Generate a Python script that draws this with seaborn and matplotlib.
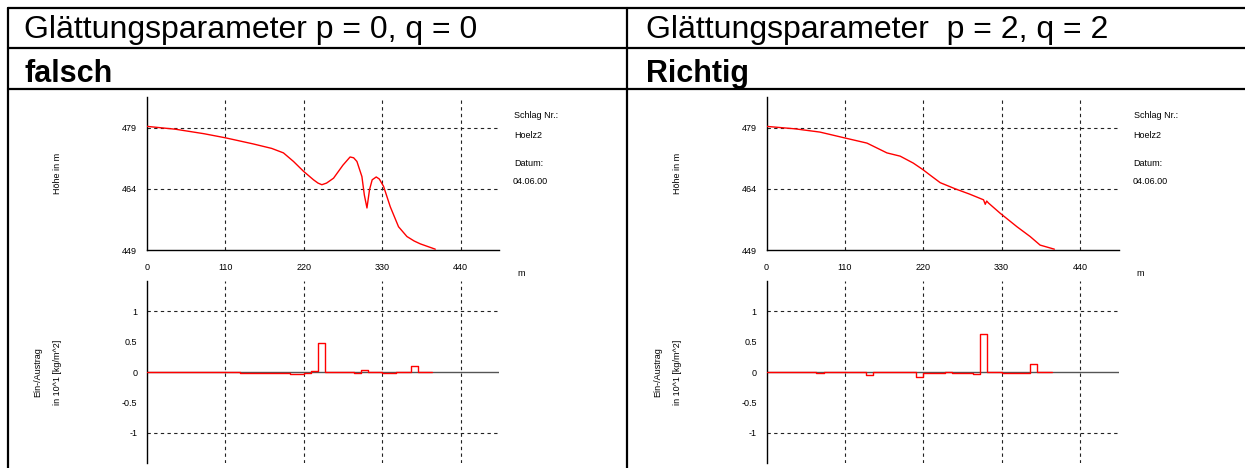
import numpy as np
import matplotlib
matplotlib.use('Agg')
import matplotlib.pyplot as plt
from matplotlib.lines import Line2D
import seaborn as sns

# Elevation profile, smoothing p = 0, q = 0 (distance in m, height in m)
dist_p0 = [0, 40, 80, 110, 149, 175, 191.5, 205.6, 219.6, 233.7, 240, 245.4, 252, 261.8, 275, 285,
           290, 294.6, 301.6, 305, 308.7, 312.3, 316, 321.7, 326, 332, 341.4, 353, 364.8, 375,
           383.6, 404.6]
elev_p0 = [479.3, 478.6, 477.5, 476.5, 475.0, 473.9, 472.8, 470.7, 468.3, 466.2, 465.4, 465.0,
           465.4, 466.6, 469.8, 471.8, 471.6, 470.7, 467.0, 462.5, 459.3, 463.8, 466.2, 466.9,
           466.4, 464.6, 459.6, 454.7, 452.3, 451.2, 450.5, 449.2]

# Elevation profile, smoothing p = 2, q = 2
dist_p2 = [0, 40, 75, 109, 141, 169, 187.6, 206, 219.5, 230, 243.8, 264.8, 285, 304.6, 307, 309,
           311.6, 328, 351.5, 370, 384, 404]
elev_p2 = [479.3, 478.7, 477.9, 476.5, 475.2, 472.8, 472.0, 470.3, 468.7, 467.3, 465.5, 464.0,
           462.7, 461.3, 460.2, 461.0, 460.5, 458.0, 454.7, 452.3, 450.2, 449.2]

# Erosion / deposition per 10 m segment (10^1 kg/m^2)
segment_edges = list(range(0, 410, 10))
erosion_p0 = [0, 0, 0, 0, 0, 0, 0, 0, 0, 0, 0, 0, 0, -0.01, -0.01, -0.01, -0.01, -0.01, -0.02, -0.02,
              -0.04, -0.04, -0.01, 0.02, 0.475, 0, 0, 0, 0, -0.02, 0.04, 0, 0, -0.01, -0.01, 0, 0,
              0.1, 0, 0]
erosion_p2 = [0, 0, 0, 0, 0, 0, 0, -0.01, 0, 0, 0, 0, 0, 0, -0.05, 0, 0, 0, 0, 0, 0, -0.08, -0.01,
              -0.01, -0.01, 0, -0.01, -0.01, -0.01, -0.03, 0.62, 0, 0, -0.01, -0.01, -0.01, -0.01,
              0.13, 0, 0]

headers = ['Glättungsparameter p = 0, q = 0', 'Glättungsparameter  p = 2, q = 2']
verdicts = ['falsch', 'Richtig']
x_ticks = [0, 110, 220, 330, 440]

sns.set_style('white')
plt.rcParams['font.family'] = ['Liberation Sans', 'DejaVu Sans']
plt.rcParams['text.color'] = 'black'
plt.rcParams['xtick.color'] = 'black'
plt.rcParams['ytick.color'] = 'black'

W, H = 1245, 468
fig = plt.figure(figsize=(W / 100, H / 100), dpi=100)


def fx(px):
    return px / W


def fy(py):
    return 1 - py / H


GRID = dict(color='#222222', linestyle=(0, (3, 3)), linewidth=0.8)
SMALL = 6.5


def style_axis(ax):
    ax.set_facecolor('none')
    for s in ['top', 'right']:
        ax.spines[s].set_visible(False)
    ax.spines['left'].set_linewidth(1.0)
    ax.spines['left'].set_color('black')
    ax.tick_params(axis='both', direction='out', length=5, width=0.9, colors='black',
                   labelcolor='black', labelsize=SMALL, pad=2)
    ax.set_xlim(0, 494)
    ax.set_xticks(x_ticks)
    for xt in x_ticks[1:]:
        ax.axvline(xt, **GRID, zorder=1)


def draw_panel(x0, dist, elev, erosion):
    # upper panel: height profile
    ax1 = fig.add_axes([fx(x0), fy(250), fx(352), (250 - 97) / H])
    style_axis(ax1)
    ax1.spines['bottom'].set_linewidth(1.0)
    ax1.spines['bottom'].set_color('black')
    ax1.set_ylim(449, 486.5)
    ax1.set_yticks([449, 456.5, 464, 471.5, 479, 486.5])
    ax1.set_yticklabels(['449', '', '464', '', '479', ''])
    for yt in [464, 479]:
        ax1.axhline(yt, **GRID, zorder=1)
    sns.lineplot(x=dist, y=elev, ax=ax1, color='#ff0000', linewidth=1.0,
                 estimator=None, sort=False, zorder=3)
    ax1.set_xlabel('')
    ax1.set_ylabel('')
    ax1.tick_params(axis='x', length=4, pad=5)

    # lower panel: erosion / deposition
    ax2 = fig.add_axes([fx(x0), fy(463), fx(352), (463 - 281) / H])
    style_axis(ax2)
    ax2.spines['bottom'].set_visible(False)
    ax2.set_ylim(-1.5, 1.5)
    ax2.set_yticks([-1.5, -1, -0.5, 0, 0.5, 1, 1.5])
    ax2.set_yticklabels(['', '-1', '-0.5', '0', '0.5', '1', ''])
    ax2.tick_params(axis='x', length=0, labelbottom=False)
    for yt in [-1, 1]:
        ax2.axhline(yt, **GRID, zorder=1)
    ax2.axhline(0, color='#555555', linewidth=1.0, zorder=2)
    steps = list(erosion) + [erosion[-1]]
    sns.lineplot(x=segment_edges, y=steps, ax=ax2, color='#ff0000', linewidth=1.0,
                 drawstyle='steps-post', estimator=None, sort=False, zorder=3)
    ax2.set_xlabel('')
    ax2.set_ylabel('')

    # labels and side texts
    fig.text(fx(x0 - 89), fy(173), 'Höhe in m', rotation=90, ha='center', va='center',
             fontsize=SMALL)
    fig.text(fx(x0 - 109), fy(372), 'Ein-/Austrag', rotation=90, ha='center', va='center',
             fontsize=SMALL)
    fig.text(fx(x0 - 89), fy(372), 'in 10^1 [kg/m^2]', rotation=90, ha='center', va='center',
             fontsize=SMALL)
    fig.text(fx(x0 + 367), fy(116), 'Schlag Nr.:', ha='left', va='center', fontsize=SMALL)
    fig.text(fx(x0 + 367), fy(135), 'Hoelz2', ha='left', va='center', fontsize=SMALL)
    fig.text(fx(x0 + 367), fy(163), 'Datum:', ha='left', va='center', fontsize=SMALL)
    fig.text(fx(x0 + 366), fy(182), '04.06.00', ha='left', va='center', fontsize=SMALL)
    fig.text(fx(x0 + 370), fy(273), 'm', ha='left', va='center', fontsize=SMALL)


draw_panel(147, dist_p0, elev_p0, erosion_p0)
draw_panel(766.5, dist_p2, elev_p2, erosion_p2)

# table headers
for col_x, head, verdict in zip([24, 646], headers, verdicts):
    fig.text(fx(col_x), fy(38), head, ha='left', va='baseline', fontsize=23)
    fig.text(fx(col_x), fy(82), verdict, ha='left', va='baseline', fontsize=22,
             fontweight='bold')

# table rules
rules = [([8, W], [8, 8]), ([8, W], [48, 48]), ([8, W], [89, 89]),
         ([8, 8], [8, H]), ([627, 627], [8, H])]
for xs, ys in rules:
    fig.add_artist(Line2D([fx(v) for v in xs], [fy(v) for v in ys], color='black',
                          linewidth=1.6, transform=fig.transFigure))

fig.savefig('out.png', dpi=100)
